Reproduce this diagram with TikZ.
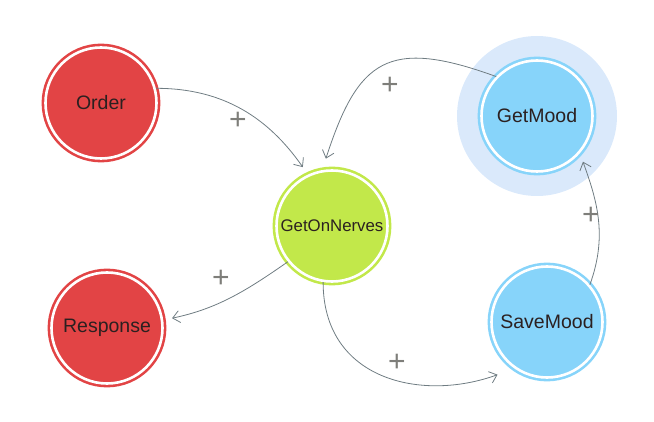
\documentclass[tikz,border=0pt]{standalone}
\usepackage{fontspec}
\setmainfont{Liberation Sans}
\usetikzlibrary{arrows.meta, backgrounds}

\definecolor{orderred}{HTML}{E24445}
\definecolor{nervegreen}{HTML}{C2E84A}
\definecolor{moodblue}{HTML}{87D4FA}
\definecolor{haloblue}{HTML}{DAE9FB}
\definecolor{linkgray}{HTML}{6F7C82}
\definecolor{plusgray}{HTML}{7E7E7A}
\definecolor{labeltext}{HTML}{2B2020}

\tikzset{
    state/.style={circle, double=white, double distance=2.6pt, line width=2.6pt,
        minimum size=111pt, inner sep=0pt, text=labeltext,
        font=\fontsize{19.5}{22}\selectfont},
    redstate/.style={state, draw=orderred, fill=orderred},
    bluestate/.style={state, draw=moodblue, fill=moodblue},
    link/.style={draw=linkgray, line width=0.8pt,
        -{Straight Barb[length=7pt, width=12pt]}, shorten >=9pt},
    plus/.style={text=plusgray, font=\fontsize{30}{32}\selectfont, inner sep=0pt}
}

\begin{document}
\begin{tikzpicture}[x=1pt, y=-1pt]
    \useasboundingbox (0,0) rectangle (654,422);

    \node[redstate] (order) at (101,103) {Order};
    \node[redstate] (response) at (107,328) {Response};
    \node[state, draw=nervegreen, fill=nervegreen, font=\fontsize{16.8}{19}\selectfont] (gon) at (332,226) {GetOnNerves};
    \node[bluestate] (getmood) at (537,116) {GetMood};
    \node[bluestate] (savemood) at (547,322) {SaveMood};

    % halo round GetMood
    \begin{scope}[on background layer]
        \fill[haloblue] (getmood) circle (80);
    \end{scope}

    \draw[link] (order.15) to[out=0, in=125] (gon.115);
    \draw[link, shorten >=12pt] (getmood.136) to[out=160, in=72, looseness=1.5] (gon.100);
    \draw[link] (gon.219) to[out=215, in=12] (response.8);
    \draw[link, shorten >=18pt] (gon.261) to[out=270, in=200, looseness=1.2] (savemood.235);
    \draw[link] (savemood.41) to[out=70, in=290] (getmood.319);

    \node[plus] (p1) at (238,121) {+};
    \node[plus] (p2) at (390,86) {+};
    \node[plus] (p3) at (221,279) {+};
    \node[plus] (p4) at (397,363) {+};
    \node[plus] (p5) at (591,216) {+};
\end{tikzpicture}
\end{document}
